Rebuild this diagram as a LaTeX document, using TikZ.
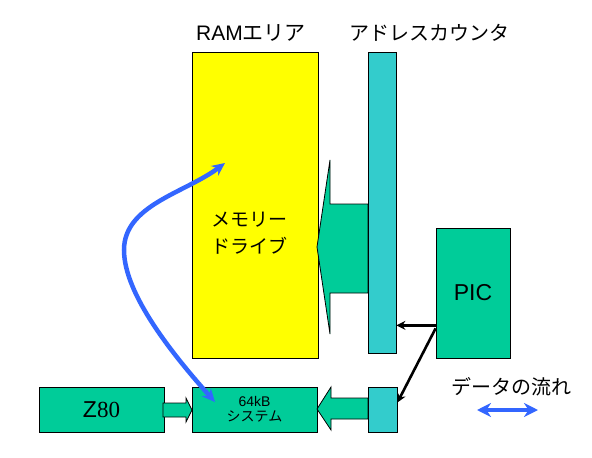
\documentclass[tikz,border=0pt]{standalone}
\usepackage{fontspec}
\setmainfont{Liberation Sans}
\newfontfamily\cjk{Noto Sans CJK JP}
\newfontfamily\serifz{Liberation Serif}
\usetikzlibrary{arrows.meta,calc}
\definecolor{ramyellow}{HTML}{FFFF00}
\definecolor{ctrcyan}{HTML}{33CCCC}
\definecolor{blkgreen}{HTML}{00CC99}
\definecolor{flowblue}{HTML}{3366FF}
\tikzset{
  box/.style={draw=black, line width=0.8pt, inner sep=0pt, anchor=center},
  blockarrow/.style={draw=black, line width=0.8pt, fill=blkgreen},
  ctlarrow/.style={line width=2.6pt, -{Stealth[length=9pt,width=9pt]}},
  flow/.style={draw=flowblue, line width=4.5pt, {Stealth[length=13pt,width=12pt]}-{Stealth[length=13pt,width=12pt]}},
  lbl/.style={inner sep=0pt, anchor=center}
}
\begin{document}
\begin{tikzpicture}[x=1pt,y=-1pt]
\useasboundingbox (0,0) rectangle (592,458);
% titles
\node[lbl, font=\fontsize{21}{23}\selectfont] (tram) at (251,33) {RAM{\cjk エリア}};
\node[lbl, font=\fontsize{20}{22}\selectfont\cjk] (tctr) at (429,33) {アドレスカウンタ};
% RAM area
\node[box, fill=ramyellow, minimum width=126pt, minimum height=306pt] (ram) at (255,205) {};
\node[lbl, font=\fontsize{19}{27}\selectfont\cjk, align=center] (ramtxt) at (249,233) {メモリー\\ドライブ};
% big block arrow from counter to RAM
\draw[blockarrow] (317,247) -- (330,160) -- (330,204) -- (368,204) -- (368,293) -- (330,293) -- (330,334) -- cycle;
% address counter
\node[box, fill=ctrcyan, minimum width=28pt, minimum height=301pt] (ctr) at (382,202.5) {};
% PIC
\node[box, fill=blkgreen, minimum width=74pt, minimum height=130pt, font=\fontsize{23}{25}\selectfont] (pic) at (473,293) {PIC};
% bottom row
\node[box, fill=blkgreen, minimum width=125pt, minimum height=45pt, font=\fontsize{23}{25}\selectfont] (z80) at (101.5,409.5) {Z{\serifz 80}};
\draw[blockarrow] (163,403) -- (186,403) -- (186,398) -- (192,410) -- (186,422) -- (186,417) -- (163,417) -- cycle;
\node[box, fill=blkgreen, minimum width=125pt, minimum height=45pt] (sys) at (254.5,409.5) {};
\node[lbl, font=\fontsize{14}{15}\selectfont, align=center] (systxt) at (254.5,409.5) {64kB\\{\cjk システム}};
\draw[blockarrow] (317,409) -- (331,387) -- (331,398) -- (368,398) -- (368,419) -- (331,419) -- (331,430) -- cycle;
\node[box, fill=ctrcyan, minimum width=29pt, minimum height=45pt] (ctr2) at (382.5,409.5) {};
% control arrows from PIC
\coordinate (p1) at ($(pic.south west)+(0,-33)$);
\coordinate (p2) at ($(pic.south west)+(0,-30)$);
\draw[ctlarrow] (p1) -- (ctr.east |- p1);
\draw[ctlarrow] (p2) -- ($(ctr2.east)+(0,-7)$);
% data flow curve
\coordinate (fa) at (225,163);
\coordinate (fm) at (124,250);
\coordinate (fb) at (215,402);
\draw[flow] (fa) .. controls (185,193) and (124,205) .. (fm) .. controls (124,295) and (175,357) .. (fb);
% legend
\node[lbl, font=\fontsize{20}{22}\selectfont\cjk] (leg) at (511,387) {データの流れ};
\coordinate (la) at (477,410);
\coordinate (lb) at (538,410);
\draw[draw=flowblue, line width=4.5pt, {Stealth[length=14pt,width=14pt]}-{Stealth[length=14pt,width=14pt]}] (la) -- (lb);
\end{tikzpicture}
\end{document}
